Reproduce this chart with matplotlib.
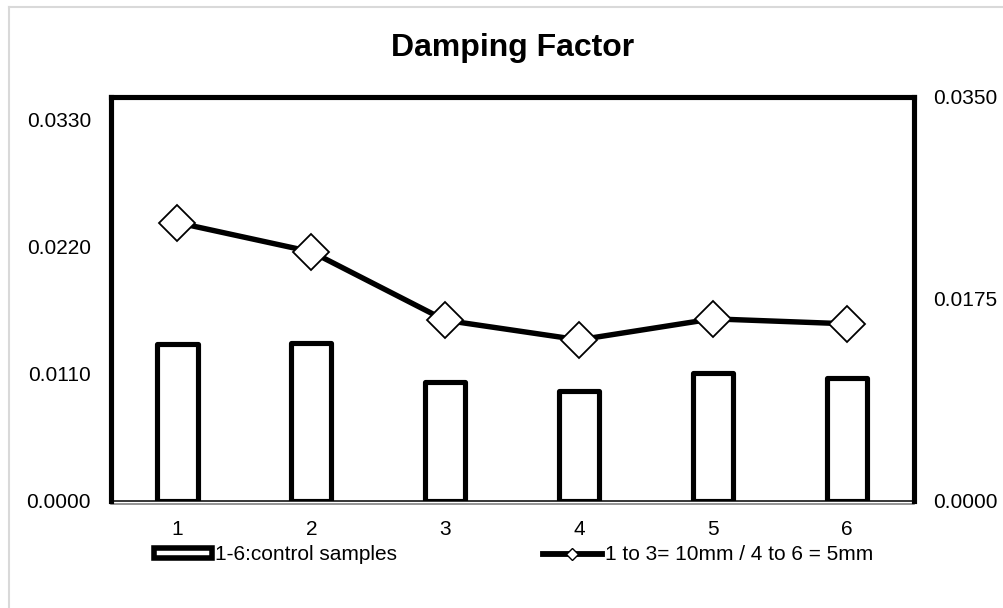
import matplotlib
matplotlib.use("Agg")
import matplotlib.pyplot as plt
import matplotlib.patches as mpatches
from matplotlib.lines import Line2D
from matplotlib.transforms import ScaledTranslation

plt.rcParams["font.family"] = ["Liberation Sans", "DejaVu Sans"]

# data
samples = ["1", "2", "3", "4", "5", "6"]
control_values = [0.01358, 0.01371, 0.01032, 0.00952, 0.01103, 0.01061]
thickness_values = [0.02409, 0.02157, 0.01564, 0.01394, 0.01576, 0.01533]

left_ticks = [0.0, 0.011, 0.022, 0.033]
right_ticks = [0.0, 0.0175, 0.035]
y_max = 0.035

bar_label = "1-6:control samples"
line_label = "1 to 3= 10mm / 4 to 6 = 5mm"

W, H = 1004, 608
fig = plt.figure(figsize=(W / 100, H / 100), dpi=100)
fig.patch.set_facecolor("white")

# light grey outer chart border (only top/left visible)
fig.add_artist(Line2D([9 / W, 9 / W], [1 - 6.5 / H, 0], color="#d9d9d9", lw=1.5,
                      transform=fig.transFigure))
fig.add_artist(Line2D([9 / W, 1], [1 - 6.5 / H, 1 - 6.5 / H], color="#d9d9d9", lw=1.5,
                      transform=fig.transFigure))

left_px, right_px, top_px, bottom_px = 110.5, 913.7, 96.7, 500.8
ax = fig.add_axes([left_px / W, 1 - bottom_px / H, (right_px - left_px) / W,
                   (bottom_px - top_px) / H])
ax2 = ax.twinx()

x_positions = list(range(len(samples)))

ax.bar(x_positions, control_values, width=0.30, facecolor="white",
       edgecolor="black", linewidth=3.7, joinstyle="round", zorder=2)

ax2.plot(x_positions, thickness_values, color="black", linewidth=3.9,
         marker="D", markersize=18, markerfacecolor="white",
         markeredgecolor="black", markeredgewidth=1.3, zorder=3,
         solid_joinstyle="round")

ax.set_xlim(-0.5, len(samples) - 0.5)
ax.set_ylim(0, y_max)
ax2.set_ylim(0, y_max)

ax.set_yticks(left_ticks)
ax.set_yticklabels([f"{v:.4f}" for v in left_ticks])
ax2.set_yticks(right_ticks)
ax2.set_yticklabels([f"{v:.4f}" for v in right_ticks])
ax.set_xticks(x_positions)
ax.set_xticklabels(samples)

ax.tick_params(axis="y", length=0, pad=14, labelsize=15)
ax.tick_params(axis="x", length=0, pad=14, labelsize=15)
ax2.tick_params(axis="y", length=0, pad=14, labelsize=15)

for spine in ax.spines.values():
    spine.set_visible(False)
for name, spine in ax2.spines.items():
    if name == "bottom":
        spine.set_linewidth(1.1)
        spine.set_color("black")
    else:
        spine.set_linewidth(3.7)
        spine.set_color("black")
        spine.set_capstyle("projecting")

# second line of the double baseline
offset = ScaledTranslation(0, -3.5 / 100, fig.dpi_scale_trans)
ax2.add_line(Line2D([0, 1], [0, 0], color="#777777", lw=1.1,
                    transform=ax2.transAxes + offset, clip_on=False))

fig.text(513 / W, 1 - 48 / H, "Damping Factor", ha="center", va="center",
         fontsize=23, fontweight="bold")

legend_handles = [
    mpatches.Patch(facecolor="white", edgecolor="black", linewidth=4.0,
                   joinstyle="round", label=bar_label),
    Line2D([], [], color="black", linewidth=4.2, marker="D", markersize=6.5,
           markerfacecolor="white", markeredgecolor="black",
           markeredgewidth=1.0, label=line_label),
]
fig.legend(handles=legend_handles, loc="center left",
           bbox_to_anchor=(154 / W, 1 - 555 / H), ncol=2, frameon=False,
           fontsize=15, borderpad=0, borderaxespad=0, handlelength=2.8,
           handleheight=0.35, handletextpad=0.15, columnspacing=7.0)

fig.savefig("out.png", dpi=100, facecolor="white")
